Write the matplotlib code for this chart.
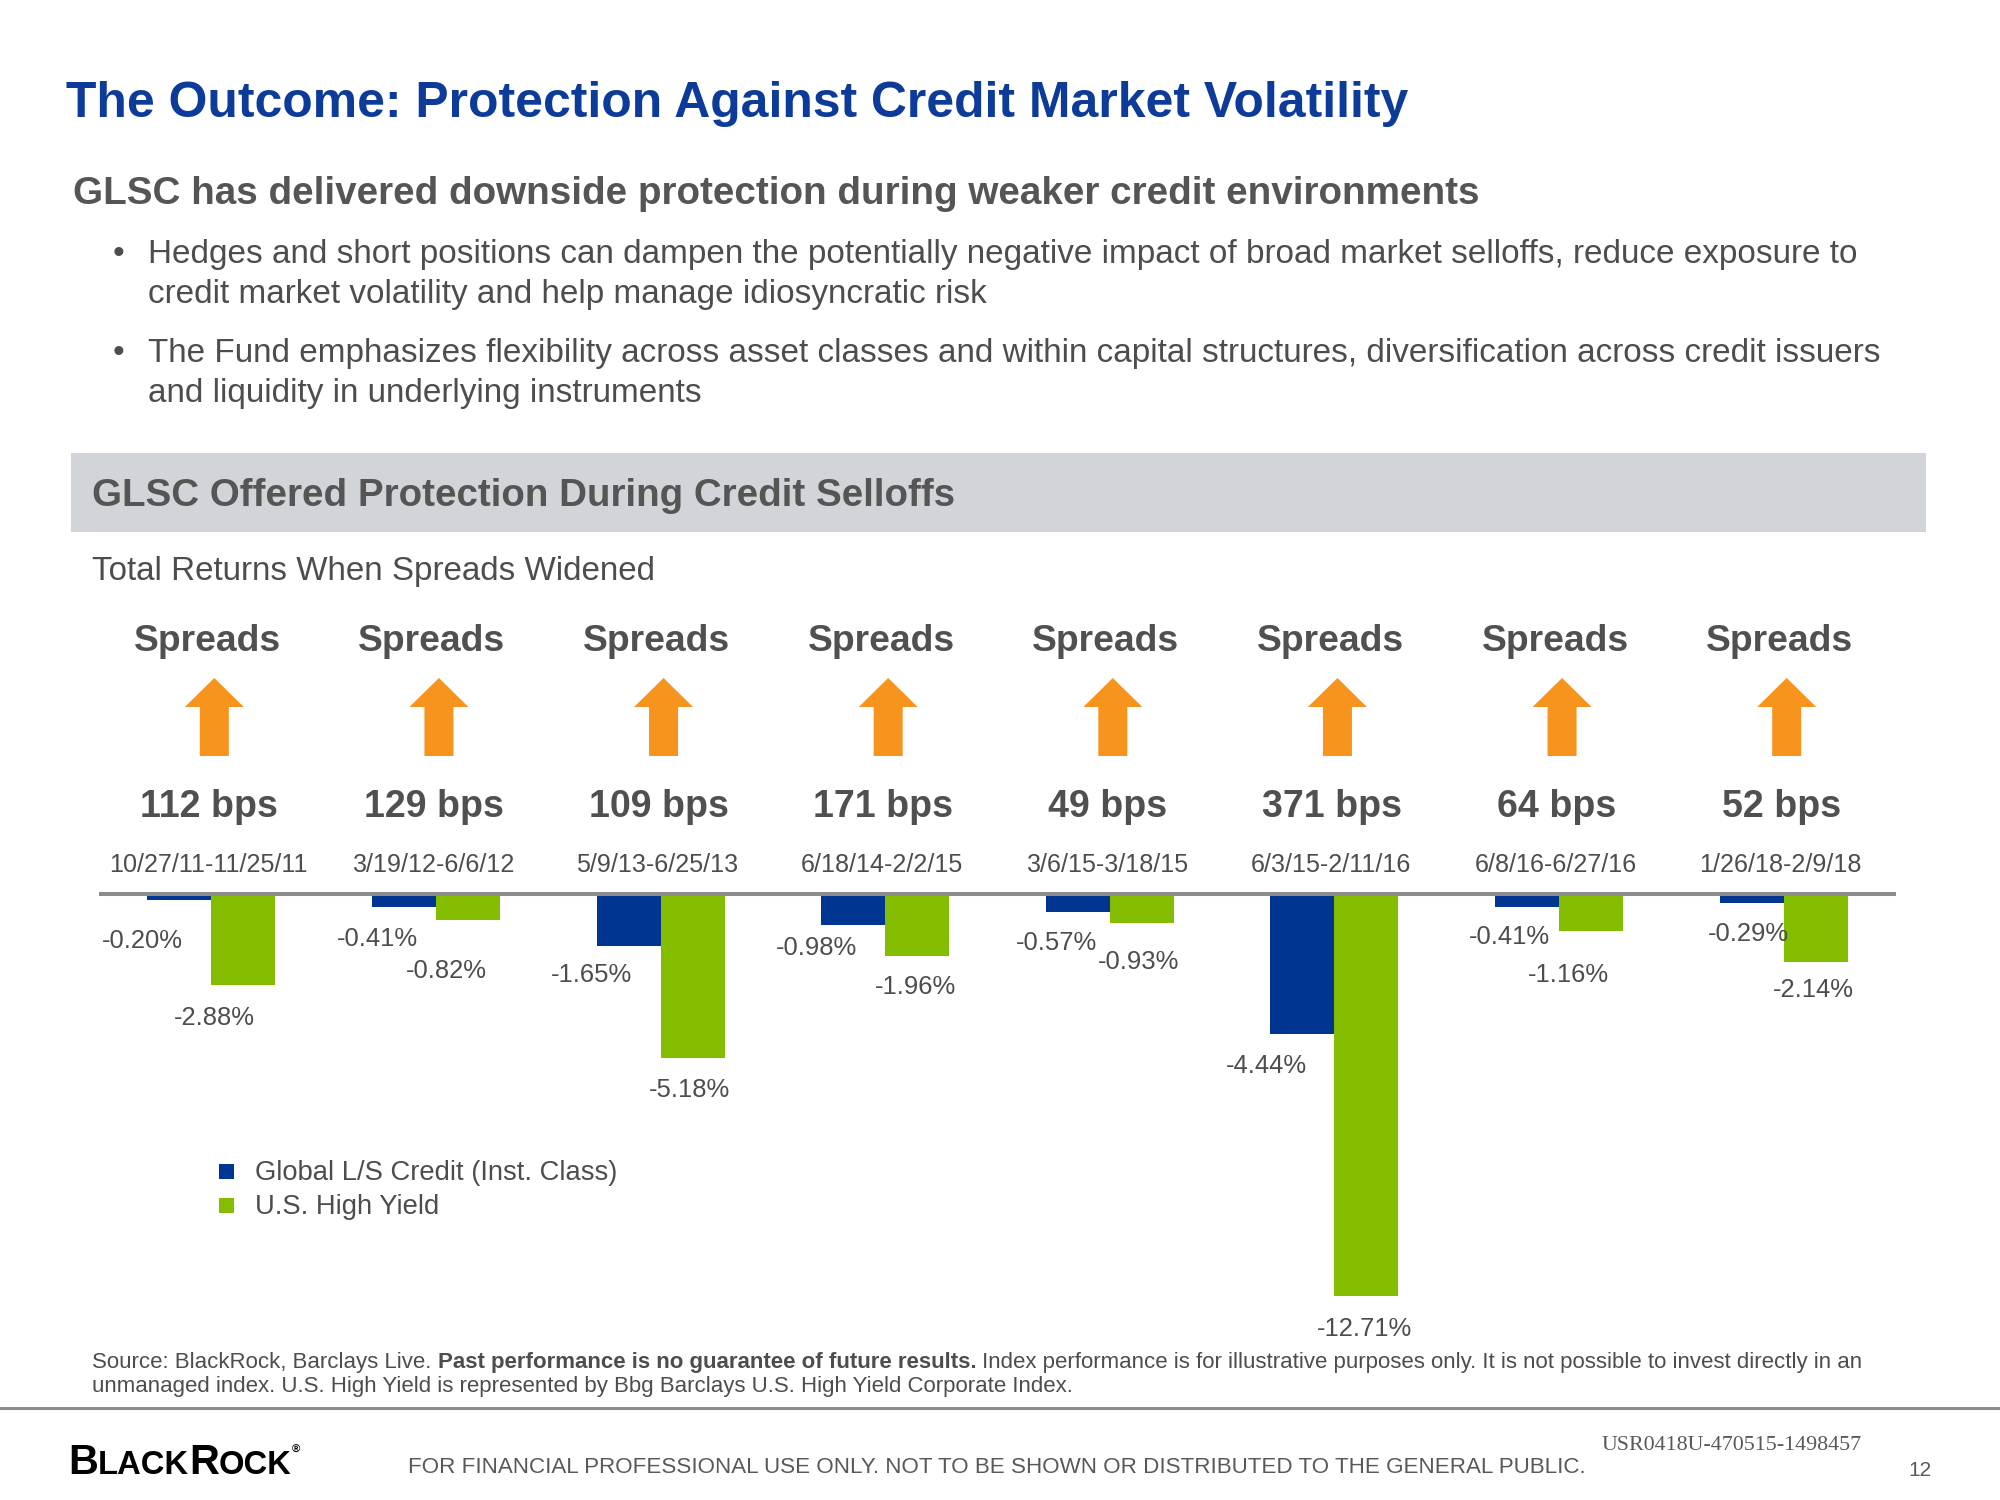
import numpy as np
import matplotlib
matplotlib.use("Agg")
import matplotlib.pyplot as plt
from matplotlib import font_manager
from matplotlib.patches import Rectangle, Polygon

# ── Data ──────────────────────────────────────────────────────────────────────
spreads_bps = [112, 129, 109, 171, 49, 371, 64, 52]
periods = ["10/27/11-11/25/11", "3/19/12-6/6/12", "5/9/13-6/25/13", "6/18/14-2/2/15",
           "3/6/15-3/18/15", "6/3/15-2/11/16", "6/8/16-6/27/16", "1/26/18-2/9/18"]
glsc = [-0.20, -0.41, -1.65, -0.98, -0.57, -4.44, -0.41, -0.29]
high_yield = [-2.88, -0.82, -5.18, -1.96, -0.93, -12.71, -1.16, -2.14]
series_names = ["Global L/S Credit (Inst. Class)", "U.S. High Yield"]

# label nudges in pixels (hand placed in the original)
BLUE_DX = [-37, -26, -37, -37, -21, -36, -18, -3]
GREEN_DX = [-29, -22, -3, -2, -3, -2, -23, -2]
BLUE_DY = [2, 0, -4, -9, -2, -1, -2, -5]
GREEN_DY = [0, 4, 0, -1, -5, 0, 8, -4]

# ── Style ─────────────────────────────────────────────────────────────────────
TITLE_BLUE = "#0D3B99"
BAR_BLUE = "#003591"
BAR_GREEN = "#84BD00"
ORANGE = "#F7941D"
BAND = "#D1D4D8"
GRAY = "#4D4D4D"
RULE = "#8C8C8C"

names = {f.name for f in font_manager.fontManager.ttflist}
NARROW = "Liberation Sans Narrow" if "Liberation Sans Narrow" in names else "Liberation Sans"
WIDE = "Liberation Sans"
SERIF = "Liberation Serif" if "Liberation Serif" in names else "DejaVu Serif"

fig = plt.figure(figsize=(20, 15), dpi=100)
bg = fig.add_axes([0, 0, 1, 1])
bg.set_xlim(0, 2000)
bg.set_ylim(1500, 0)
bg.axis("off")
renderer = fig.canvas.get_renderer()


def put(x, y, s, size, width=None, weight="normal", color=GRAY, ha="left",
        family=NARROW, va="baseline"):
    t = bg.text(x, y, s, fontsize=size, fontweight=weight, color=color, ha=ha,
                va=va, family=family)
    if width:
        w = t.get_window_extent(renderer).width
        t.set_fontsize(size * width / w)
    return t


def fitted_size(s, size, width, weight="normal", family=NARROW):
    t = bg.text(0, 0, s, fontsize=size, fontweight=weight, family=family)
    w = t.get_window_extent(renderer).width
    t.remove()
    return size * width / w


def run(x, y, parts, width=None, color=GRAY, family=NARROW):
    # parts: (text, size, weight, dy)
    def draw(scale):
        cur = x
        made = []
        for s, size, wt, dy in parts:
            t = bg.text(cur, y + dy, s, fontsize=size * scale, fontweight=wt,
                        color=color, family=family, va="baseline")
            cur += t.get_window_extent(renderer).width
            made.append(t)
        return made, cur - x
    made, w = draw(1.0)
    if width:
        for t in made:
            t.remove()
        made, w = draw(width / w)
    return made


# ── Header ────────────────────────────────────────────────────────────────────
put(66, 117, "The Outcome: Protection Against Credit Market Volatility", 35,
    width=1341, weight="bold", color=TITLE_BLUE)
put(73, 204, "GLSC has delivered downside protection during weaker credit environments",
    27, width=1404, weight="bold", color="#555555")

bullets = [
    ["Hedges and short positions can dampen the potentially negative impact of broad market selloffs, reduce exposure to",
     "credit market volatility and help manage idiosyncratic risk"],
    ["The Fund emphasizes flexibility across asset classes and within capital structures, diversification across credit issuers",
     "and liquidity in underlying instruments"],
]
b_size = fitted_size(bullets[0][0], 20, 1704)
for lines, y0 in zip(bullets, [263, 362]):
    put(113, y0, "\u2022", b_size, family=WIDE)
    for k, line in enumerate(lines):
        put(148, y0 + 40 * k, line, b_size)

bg.add_patch(Rectangle((71, 453), 1855, 79, color=BAND, lw=0))
put(92, 506, "GLSC Offered Protection During Credit Selloffs", 24, width=863,
    weight="bold", color="#555555")
put(92, 580, "Total Returns When Spreads Widened", 22, width=562)

# ── Chart ─────────────────────────────────────────────────────────────────────
ax = fig.add_axes([99 / 2000, 1 - 1360 / 1500, 1797 / 2000, 480 / 1500])
ax.set_xlim(-0.5, 7.5)
ax.set_ylim(-14.733, 0.4426)
ax.axis("off")
ax.patch.set_alpha(0)

x = np.arange(len(glsc))
w = 0.285
ax.bar(x - w / 2, glsc, w, color=BAR_BLUE, lw=0, zorder=2)
ax.bar(x + w / 2, high_yield, w, color=BAR_GREEN, lw=0, zorder=2)
ax.axhline(0, color=RULE, lw=2.9, zorder=3)

fig.canvas.draw()
ppu = ax.transData.transform((0, 0))[1] - ax.transData.transform((0, -1))[1]
ppx = ax.transData.transform((1, 0))[0] - ax.transData.transform((0, 0))[0]

val_size = fitted_size("-0.20%", 19, 81)
for vals, dxs, dys, sign, floor in ((glsc, BLUE_DX, BLUE_DY, -1, 43),
                                    (high_yield, GREEN_DX, GREEN_DY, 1, 71)):
    for i, (v, dx, dy) in enumerate(zip(vals, dxs, dys)):
        off = max(-v * ppu + 30, floor) + 9.5 + dy
        ax.text(i + sign * w / 2 + dx / ppx, -off / ppu, f"{v:.2f}%", ha="center",
                va="baseline", fontsize=val_size, color=GRAY, family=NARROW,
                clip_on=False)

sp_size = fitted_size("Spreads", 26, 147, weight="bold")
bps_size = fitted_size("112 bps", 27, 138, weight="bold")
dt_size = fitted_size(periods[0], 18, 198)
for i in range(len(spreads_bps)):
    cx = ax.transData.transform((i, 0))[0]
    put(cx - 4, 651, "Spreads", sp_size, weight="bold", ha="center", color="#505050")
    put(cx - 2, 817, f"{spreads_bps[i]} bps", bps_size, weight="bold", ha="center",
        color="#505050")
    put(cx - 3, 872, periods[i], dt_size, ha="center")
    a = cx + 3
    bg.add_patch(Polygon([(a, 678), (a + 29.5, 707), (a + 14.5, 707), (a + 14.5, 756),
                          (a - 14.5, 756), (a - 14.5, 707), (a - 29.5, 707)],
                         closed=True, color=ORANGE, lw=0))

# legend
leg_size = fitted_size(series_names[0], 19, 363)
for k, (name, col) in enumerate(zip(series_names, [BAR_BLUE, BAR_GREEN])):
    yc = 1171 + 34 * k
    bg.add_patch(Rectangle((219, yc - 7.5), 15, 15, color=col, lw=0))
    put(255, yc + 9.5, name, leg_size)

# ── Footnotes ─────────────────────────────────────────────────────────────────
src = run(92, 1368, [("Source: BlackRock, Barclays Live. ", 14, "normal", 0),
                     ("Past performance is no guarantee of future results.", 14, "bold", 0),
                     (" Index performance is for illustrative purposes only. It is not possible to invest directly in an", 14, "normal", 0)],
          width=1778)
put(92, 1392, "unmanaged index. U.S. High Yield is represented by Bbg Barclays U.S. High Yield Corporate Index.",
    src[0].get_fontsize())

bg.plot([0, 2000], [1408, 1408], color=RULE, lw=2.2)

run(68, 1474, [("B", 33, "bold", 0), ("LACK", 26, "bold", 0), ("R", 33, "bold", 0),
               ("OCK", 26, "bold", 0), ("\u00ae", 9, "bold", -21)],
    width=232, color="black", family=WIDE)
put(408, 1473, "FOR FINANCIAL PROFESSIONAL USE ONLY. NOT TO BE SHOWN OR DISTRIBUTED TO THE GENERAL PUBLIC.",
    15, width=1180, color="#595959")
put(1862, 1450, "USR0418U-470515-1498457", 14, width=261, ha="right", family=SERIF,
    color="#595959")
put(1931, 1476, "12", 15, ha="right", color="#595959")

fig.savefig("out.png", dpi=100)
